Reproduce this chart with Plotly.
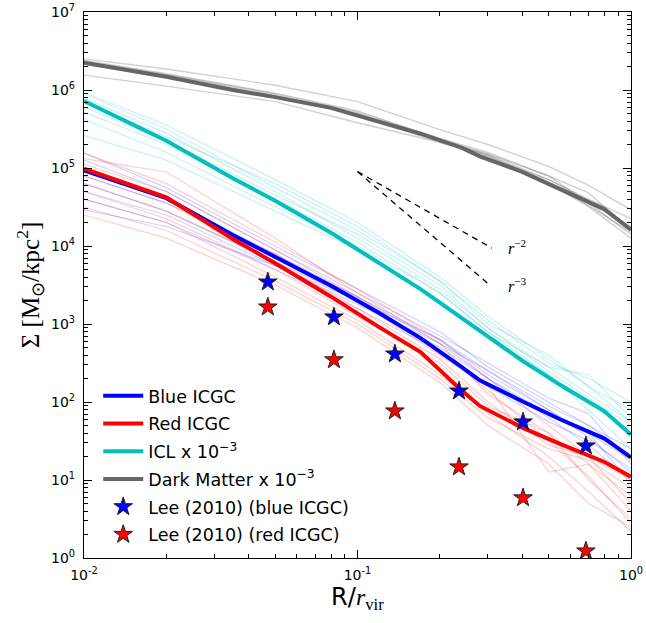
import plotly.graph_objects as go

# ---------------- data ----------------
r_main = [0.01, 0.02, 0.035, 0.05, 0.08, 0.12, 0.17, 0.24, 0.28, 0.4, 0.55, 0.8, 1.0]
blue_icgc = [9.3e4, 4.1e4, 1.38e4, 7.2e3, 3.1e3, 1.38e3, 660, 282, 190, 102, 60, 34, 19.5]
red_icgc = [9.8e4, 4.2e4, 1.23e4, 6.0e3, 2.24e3, 912, 437, 141, 89, 47, 29, 17, 11]
icl = [7.2e5, 2.24e5, 7.4e4, 3.8e4, 1.48e4, 6.0e3, 2.8e3, 1.2e3, 813, 339, 166, 76, 38]
dark_matter = [2.24e6, 1.48e6, 1.0e6, 8.1e5, 5.9e5, 3.9e5, 2.75e5, 1.82e5, 1.41e5, 8.9e4, 5.4e4, 2.95e4, 1.62e4]

r_thin = [0.01, 0.02, 0.05, 0.1, 0.2, 0.3, 0.5, 0.7, 1.0]
blue_thin = [
    [1.55e5, 5.6e4, 1.0e4, 2.8e3, 794, 282, 100, 50, 20],
    [1.26e5, 5.0e4, 8.9e3, 2.5e3, 708, 316, 112, 71, 16],
    [1.0e5, 4.0e4, 7.9e3, 2.24e3, 631, 224, 79, 35, 12.6],
    [7.9e4, 3.55e4, 7.1e3, 2.24e3, 562, 200, 71, 40, 8.9],
    [6.3e4, 2.8e4, 6.3e3, 2.0e3, 501, 200, 63, 28, 10],
    [5.0e4, 2.5e4, 5.6e3, 2.0e3, 631, 251, 89, 50, 25],
    [4.0e4, 2.0e4, 5.0e3, 1.58e3, 447, 158, 56, 32, 14],
    [2.9e4, 1.78e4, 5.6e3, 1.78e3, 562, 251, 79, 40, 18],
]
red_thin = [
    [1.55e5, 6.3e4, 1.12e4, 2.8e3, 631, 200, 50, 20, 5.0],
    [1.32e5, 8.9e4, 1.26e4, 2.5e3, 562, 126, 40, 16, 4.0],
    [1.12e5, 5.0e4, 8.9e3, 2.24e3, 447, 141, 32, 11, 2.8],
    [7.9e4, 3.55e4, 7.9e3, 2.0e3, 398, 158, 12.6, 16, 6.3],
    [6.3e4, 2.8e4, 6.3e3, 1.58e3, 355, 100, 28, 20, 10],
    [5.0e4, 2.24e4, 5.0e3, 1.26e3, 316, 89, 40, 10, 3.2],
    [4.0e4, 2.0e4, 4.0e3, 1.12e3, 224, 71, 20, 7.1, 2.2],
    [3.16e4, 1.58e4, 3.55e3, 1.0e3, 200, 63, 25, 18, 7.9],
    [2.5e4, 1.26e4, 3.16e3, 891, 178, 50, 16, 5.0, 2.5],
]
icl_thin = [
    [9.3e5, 3.55e5, 7.1e4, 2.0e4, 4.0e3, 1.26e3, 355, 158, 79],
    [8.9e5, 3.16e5, 5.6e4, 1.58e4, 3.55e3, 1.12e3, 316, 200, 100],
    [7.9e5, 2.8e5, 5.0e4, 1.26e4, 2.8e3, 890, 250, 112, 50],
    [6.0e5, 2.24e5, 4.5e4, 1.41e4, 3.16e3, 890, 280, 126, 56],
    [5.2e5, 2.0e5, 4.0e4, 1.12e4, 2.5e3, 790, 224, 100, 40],
    [4.2e5, 1.58e5, 3.16e4, 1.0e4, 2.5e3, 790, 280, 224, 63],
    [2.6e5, 1.26e5, 2.8e4, 8.9e3, 2.0e3, 710, 224, 79, 25],
    [7.1e5, 2.5e5, 6.3e4, 1.78e4, 3.55e3, 1.0e3, 400, 158, 56],
]
dm_thin = [
    [2.51e6, 1.86e6, 1.15e6, 7.1e5, 3.1e5, 2.0e5, 1.05e5, 6.0e4, 2.9e4],
    [1.55e6, 1.12e6, 7.1e5, 3.8e5, 2.14e5, 1.48e5, 7.1e4, 3.8e4, 1.78e4],
    [2.34e6, 1.58e6, 8.9e5, 5.2e5, 2.4e5, 1.58e5, 7.9e4, 3.55e4, 1.41e4],
    [2.14e6, 1.45e6, 8.3e5, 4.8e5, 2.14e5, 1.38e5, 7.1e4, 4.0e4, 2.24e4],
    [2.29e6, 1.55e6, 8.5e5, 5.0e5, 2.24e5, 1.41e5, 6.3e4, 3.2e4, 1.26e4],
    [2.19e6, 1.48e6, 8.3e5, 4.9e5, 2.29e5, 1.51e5, 7.9e4, 4.8e4, 1.58e4],
    [2.4e6, 1.62e6, 9.1e5, 5.4e5, 2.34e5, 1.45e5, 6.6e4, 3.3e4, 1.51e4],
]

lee_r = [0.047, 0.082, 0.137, 0.235, 0.403, 0.684]
lee_blue = [3450, 1230, 412, 138, 55.5, 27.3]
lee_red = [1650, 347, 76.7, 14.7, 5.9, 1.23]

slope2_r = [0.1, 0.31]
slope2_s = [9.0e4, 9.4e3]
slope3_r = [0.1, 0.3]
slope3_s = [9.0e4, 3.3e3]

y_tick_vals = [1, 10, 100, 1e3, 1e4, 1e5, 1e6, 1e7]
y_tick_text = ["10<sup>0</sup>", "10<sup>1</sup>", "10<sup>2</sup>", "10<sup>3</sup>",
               "10<sup>4</sup>", "10<sup>5</sup>", "10<sup>6</sup>", "10<sup>7</sup>"]
x_tick_vals = [0.01, 0.1, 1.0]
x_tick_text = ["10<sup>-2</sup>", "10<sup>-1</sup>", "10<sup>0</sup>"]

# ---------------- figure ----------------
fig = go.Figure()

def thin(xs, ys, color, width=1.2):
    fig.add_trace(go.Scatter(x=xs, y=ys, mode="lines", showlegend=False, hoverinfo="skip",
                             line=dict(color=color, width=width)))

for ys in dm_thin:
    thin(r_thin, ys, "rgba(90,90,90,0.28)", 1.4)
for ys in icl_thin:
    thin(r_thin, ys, "rgba(0,191,191,0.22)")
for ys in blue_thin:
    thin(r_thin, ys, "rgba(0,0,255,0.18)")
for ys in red_thin:
    thin(r_thin, ys, "rgba(255,0,0,0.20)")

fig.add_trace(go.Scatter(x=r_main, y=blue_icgc, mode="lines", name="Blue ICGC", legendgroup="g1",
                         line=dict(color="#0000ff", width=4)))
fig.add_trace(go.Scatter(x=r_main, y=red_icgc, mode="lines", name="Red ICGC", legendgroup="g2",
                         line=dict(color="#ff0000", width=4)))
fig.add_trace(go.Scatter(x=r_main, y=icl, mode="lines", name="ICL x 10<sup>−3</sup>", legendgroup="g3",
                         line=dict(color="#00bfbf", width=4)))
fig.add_trace(go.Scatter(x=r_main, y=dark_matter, mode="lines", name="Dark Matter x 10<sup>−3</sup>",
                         legendgroup="g4", line=dict(color="#666666", width=4)))

fig.add_trace(go.Scatter(x=slope2_r, y=slope2_s, mode="lines", showlegend=False,
                         line=dict(color="black", width=1.3, dash="6px,5px")))
fig.add_trace(go.Scatter(x=slope3_r, y=slope3_s, mode="lines", showlegend=False,
                         line=dict(color="black", width=1.3, dash="6px,5px")))

fig.add_trace(go.Scatter(x=lee_r, y=lee_blue, mode="markers", name="Lee (2010) (blue ICGC)",
                         legendgroup="g5",
                         marker=dict(symbol="star", size=14, color="#0000ff",
                                     line=dict(color="#222222", width=1))))
fig.add_trace(go.Scatter(x=lee_r, y=lee_red, mode="markers", name="Lee (2010) (red ICGC)",
                         legendgroup="g6",
                         marker=dict(symbol="star", size=14, color="#ff0000",
                                     line=dict(color="#222222", width=1))))

serif = "Liberation Serif"
fig.add_annotation(x=-0.457, y=3.99, xref="x", yref="y", text="<i>r</i><sup>−2</sup>",
                   showarrow=False, xanchor="left", yanchor="middle",
                   font=dict(family=serif, size=16, color="black"))
fig.add_annotation(x=-0.457, y=3.50, xref="x", yref="y", text="<i>r</i><sup>−3</sup>",
                   showarrow=False, xanchor="left", yanchor="middle",
                   font=dict(family=serif, size=16, color="black"))

minor_x = [m * 10 ** k for k in (-2, -1) for m in range(2, 10)]
minor_y = [m * 10 ** k for k in range(0, 7) for m in range(2, 10)]

axis_common = dict(
    type="log", showgrid=False, zeroline=False, showline=True, linecolor="black",
    linewidth=1.3, mirror="allticks", ticks="inside", ticklen=8, tickwidth=1,
    tickcolor="black", tickfont=dict(family="DejaVu Sans", size=14, color="black"),
    automargin=False, ticklabeloverflow="allow",
)

fig.update_xaxes(
    **axis_common, range=[-2, 0], tickmode="array", tickvals=x_tick_vals, ticktext=x_tick_text,
    ticklabelstandoff=4,
    minor=dict(tickmode="array", tickvals=minor_x, ticks="inside", ticklen=4, tickcolor="black",
               showgrid=False),
    title=dict(text='R/<span style="font-family:Liberation Serif"><i>r</i><sub>vir</sub></span>',
               font=dict(family="DejaVu Sans", size=24, color="black"), standoff=6),
)
fig.update_yaxes(
    **axis_common, range=[0, 7], tickmode="array", tickvals=y_tick_vals, ticktext=y_tick_text,
    ticklabelstandoff=5,
    minor=dict(tickmode="array", tickvals=minor_y, ticks="inside", ticklen=4, tickcolor="black",
               showgrid=False),
    title=dict(text="Σ [M<sub>⊙</sub>/kpc<sup>2</sup>]",
               font=dict(family=serif, size=25, color="black"), standoff=4),
)

fig.update_layout(
    width=646, height=623,
    margin=dict(l=84, r=15, t=12, b=65),
    paper_bgcolor="white", plot_bgcolor="white",
    showlegend=True,
    legend=dict(x=0.026, y=0.33, xanchor="left", yanchor="top", tracegroupgap=2,
                bgcolor="rgba(0,0,0,0)", borderwidth=0, itemwidth=40,
                font=dict(family="DejaVu Sans", size=17.5, color="black")),
)

# remove the default 8px page margin so the figure fills the window exactly
fig.write_html("out.html", config={"displayModeBar": False},
               post_script="document.body.style.margin='0';")
